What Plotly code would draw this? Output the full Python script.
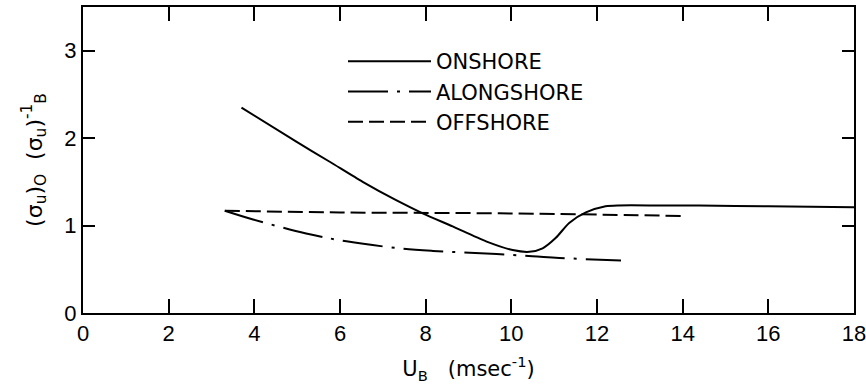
import plotly.graph_objects as go

# ---- data ----
on_x = [3.70, 4.98, 5.76, 6.53, 7.31, 7.93, 8.63, 9.41, 10.03, 10.42, 10.73,
        11.04, 11.35, 11.74, 12.2, 12.5, 13.5, 14.38, 16.0, 18.0]
on_y = [2.35, 1.96, 1.73, 1.50, 1.29, 1.14, 0.99, 0.82, 0.72, 0.70, 0.74,
        0.86, 1.03, 1.15, 1.22, 1.23, 1.23, 1.23, 1.22, 1.21]

along_x = [3.31, 3.97, 5.21, 6.15, 7.39, 8.17, 9.41, 10.49, 11.12, 12.56]
along_y = [1.17, 1.07, 0.91, 0.82, 0.74, 0.71, 0.68, 0.65, 0.63, 0.60]

off_x = [3.31, 6.0, 9.72, 14.0]
off_y = [1.17, 1.15, 1.14, 1.11]

x_ticks = [0, 2, 4, 6, 8, 10, 12, 14, 16, 18]
y_ticks = [0, 1, 2, 3]

FONT = "DejaVu Sans"
TICKFONT = "Liberation Sans Narrow, Liberation Sans, DejaVu Sans"

fig = go.Figure()
fig.add_trace(go.Scatter(x=on_x, y=on_y, mode="lines", name="ONSHORE",
                         line=dict(color="black", width=2, shape="spline", smoothing=0.7)))
fig.add_trace(go.Scatter(x=along_x, y=along_y, mode="lines", name="ALONGSHORE",
                         line=dict(color="black", width=2, shape="spline",
                                   dash="40px,9px,3px,9px")))
fig.add_trace(go.Scatter(x=off_x, y=off_y, mode="lines", name="OFFSHORE",
                         line=dict(color="black", width=2, shape="spline",
                                   dash="15px,6px")))

axis_common = dict(showgrid=False, zeroline=False, showline=True, linecolor="black",
                   linewidth=2, mirror="allticks", ticks="inside", tickcolor="black",
                   tickwidth=2, ticklabeloverflow="allow", automargin=False,
                   tickfont=dict(family=TICKFONT, size=22, color="black"))

fig.update_xaxes(range=[0, 18], tickvals=x_ticks, ticktext=[str(v) for v in x_ticks],
                 ticklen=14,
                 title=dict(text="U<sub>B</sub>   (msec<sup>-1</sup>)",
                            font=dict(family=FONT, size=21, color="black"), standoff=16),
                 **axis_common)
fig.update_yaxes(range=[0, 3.5], tickvals=y_ticks, ticktext=[str(v) for v in y_ticks],
                 ticklen=12,
                 title=dict(text="(σ<sub>u</sub>)<sub>O</sub>  (σ<sub>u</sub>)<sup>-1</sup><sub>B</sub>",
                            font=dict(family=FONT, size=22, color="black"), standoff=16),
                 **axis_common)

fig.update_layout(
    width=866, height=389,
    margin=dict(l=83, r=12, t=7, b=76),
    paper_bgcolor="white", plot_bgcolor="white",
    showlegend=True,
    legend=dict(x=(343 - 83) / 771, y=1 - (41 - 7) / 306, xanchor="left", yanchor="top",
                bgcolor="rgba(0,0,0,0)", itemwidth=83,
                font=dict(family=FONT, size=21, color="black"),
                tracegroupgap=0),
)

fig.write_html("out.html")
